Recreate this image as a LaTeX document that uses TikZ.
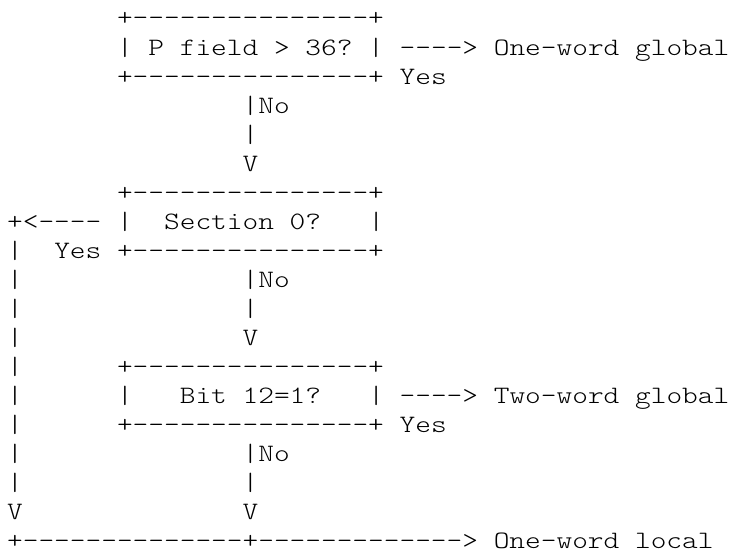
\documentclass[tikz,border=0pt]{standalone}
\usepackage{fontspec}
\usepackage{graphicx}
\setmonofont{lmmonolt10-regular.otf}
\tikzset{asc/.style={inner sep=0pt,outer sep=0pt,anchor=base west,text=black,
  font=\ttfamily\fontsize{25}{29}\selectfont}}
\newcommand\cell[4]{\node[asc] (#1) at ({7.15+15.7*#2},{-26-29.05*#3}) {\scalebox{1.196}[1]{#4}};}
\begin{document}
\begin{tikzpicture}[x=1pt,y=1pt]
\useasboundingbox[fill=white] (0,0) rectangle (735,-556);
% box 1
\cell{ba}{7}{0}{+---------------+}
\cell{bb}{7}{1}{| P field > 36? |}
\cell{bc}{25}{1}{----> One-word global}
\cell{bd}{7}{2}{+---------------+ Yes}
\cell{be}{15}{3}{|No}
\cell{bf}{15}{4}{|}
\cell{bg}{15}{5}{V}
% box 2
\cell{ca}{7}{6}{+---------------+}
\cell{cb}{0}{7}{+<----}
\cell{cc}{7}{7}{|}
\cell{cd}{10}{7}{Section 0?}
\cell{ce}{23}{7}{|}
\cell{cf}{0}{8}{|}
\cell{cg}{3}{8}{Yes +---------------+}
\cell{ch}{0}{9}{|}
\cell{ci}{15}{9}{|No}
\cell{cj}{0}{10}{|}
\cell{ck}{15}{10}{|}
\cell{cl}{0}{11}{|}
\cell{cm}{15}{11}{V}
% box 3
\cell{da}{0}{12}{|}
\cell{db}{7}{12}{+---------------+}
\cell{dc}{0}{13}{|}
\cell{dd}{7}{13}{|}
\cell{de}{11}{13}{Bit 12=1?}
\cell{df}{23}{13}{| ----> Two-word global}
\cell{dg}{0}{14}{|}
\cell{dh}{7}{14}{+---------------+ Yes}
\cell{di}{0}{15}{|}
\cell{dj}{15}{15}{|No}
\cell{dk}{0}{16}{|}
\cell{dl}{15}{16}{|}
\cell{dm}{0}{17}{V}
\cell{dn}{15}{17}{V}
\cell{do}{0}{18}{+--------------+-------------> One-word local}
\end{tikzpicture}
\end{document}
